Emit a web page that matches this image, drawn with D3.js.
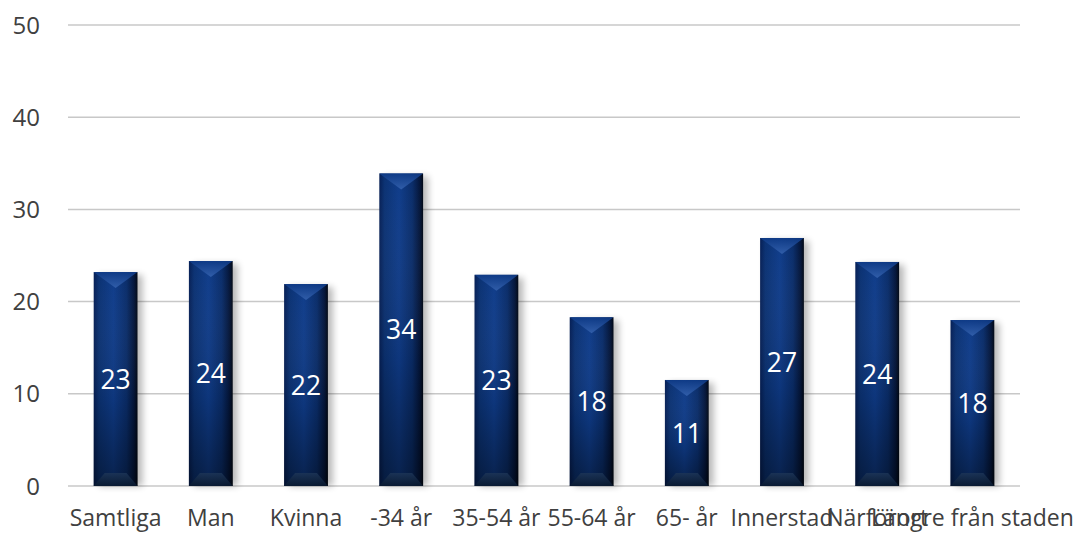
<!DOCTYPE html>
<html><head><meta charset="utf-8">
<script src="https://cdn.jsdelivr.net/npm/d3@7"></script>
<style>body{margin:0;background:#fff}svg{display:block}</style>
</head><body>
<svg id="c" width="1078" height="533"></svg>
<script>
const categories = ["Samtliga","Man","Kvinna","-34 år","35-54 år","55-64 år","65- år","Innerstad","Närförort","Längre från staden"];
const values = [23.2,24.4,21.9,33.9,22.9,18.3,11.5,26.9,24.3,18.0];
const labels = ["23","24","22","34","23","18","11","27","24","18"];
const yTicks = [0,10,20,30,40,50];

const svg = d3.select("#c");
const m = {l:68, r:58, t:25, b:47};
const W = 1078, H = 533;
const x = d3.scaleBand().domain(categories).range([m.l, W-m.r]).paddingInner(0.54).paddingOuter(0.27);
const y = d3.scaleLinear().domain([0,50]).range([H-m.b, m.t]);
const font = "'Open Sans', sans-serif";

const defs = svg.append("defs");
const hg = defs.append("linearGradient").attr("id","hg").attr("x1","0").attr("x2","1").attr("y1","0").attr("y2","0");
[[0,"#061f55"],[0.12,"#0b3273"],[0.45,"#0f3c8a"],[0.75,"#0a2d6a"],[0.92,"#04163b"],[1,"#010814"]].forEach(s=>hg.append("stop").attr("offset",s[0]).attr("stop-color",s[1]));
const vg = defs.append("linearGradient").attr("id","vg").attr("x1","0").attr("x2","0").attr("y1","0").attr("y2","1");
[[0,"#ffffff",0],[0.6,"#000000",0.1],[1,"#000000",0.45]].forEach(s=>vg.append("stop").attr("offset",s[0]).attr("stop-color",s[1]).attr("stop-opacity",s[2]));
const tg = defs.append("linearGradient").attr("id","tg").attr("x1","0").attr("x2","0").attr("y1","0").attr("y2","1");
[[0,"#0e3a86"],[1,"#3461ad"]].forEach(s=>tg.append("stop").attr("offset",s[0]).attr("stop-color",s[1]));
const bg = defs.append("linearGradient").attr("id","bg").attr("x1","0").attr("x2","0").attr("y1","0").attr("y2","1");
[[0,"#1d3557"],[1,"#0a1a30"]].forEach(s=>bg.append("stop").attr("offset",s[0]).attr("stop-color",s[1]));
const sh = defs.append("filter").attr("id","sh").attr("x","-20%").attr("y","-5%").attr("width","160%").attr("height","110%");
sh.append("feGaussianBlur").attr("stdDeviation",3.5);

// gridlines
svg.append("g").selectAll("line").data(yTicks).join("line")
  .attr("x1",m.l).attr("x2",W-m.r).attr("y1",d=>y(d)).attr("y2",d=>y(d))
  .attr("stroke","#c8c8c8").attr("stroke-width",1.5);

// y tick labels
svg.append("g").selectAll("text").data(yTicks).join("text")
  .attr("x",40).attr("y",d=>y(d)).attr("dy","0.36em").attr("text-anchor","end")
  .attr("font-family",font).attr("font-size",24).attr("fill","#404040").text(d=>d);

const bw = x.bandwidth();
const g = svg.append("g").selectAll("g").data(categories).join("g");
// shadow
g.append("rect").attr("x",d=>x(d)+5).attr("y",(d,i)=>y(values[i])+3).attr("width",bw).attr("height",(d,i)=>y(0)-y(values[i])-3)
  .attr("fill","#000").attr("opacity",0.28).attr("filter","url(#sh)");
g.append("rect").attr("x",d=>x(d)).attr("y",(d,i)=>y(values[i])).attr("width",bw).attr("height",(d,i)=>y(0)-y(values[i]))
  .attr("fill","url(#hg)");
g.append("rect").attr("x",d=>x(d)).attr("y",(d,i)=>y(values[i])).attr("width",bw).attr("height",(d,i)=>y(0)-y(values[i]))
  .attr("fill","url(#vg)");
// top bevel
g.append("path").attr("d",(d,i)=>{const x0=x(d),x1=x0+bw,t=y(values[i]),c=x0+bw/2;return `M${x0},${t}L${x1},${t}L${c},${t+16}Z`;})
  .attr("fill","url(#tg)").attr("opacity",0.9);
// bottom bevel
g.append("path").attr("d",(d,i)=>{const x0=x(d),x1=x0+bw,b=y(0);return `M${x0},${b}L${x0+11},${b-13}L${x1-11},${b-13}L${x1},${b}Z`;})
  .attr("fill","url(#bg)").attr("opacity",0.85);
// value labels
g.append("text").attr("x",d=>x(d)+bw/2).attr("y",(d,i)=>(y(values[i])+y(0))/2).attr("dy","0.36em")
  .attr("text-anchor","middle").attr("font-family",font).attr("font-size",26.5).attr("fill","#fff").text((d,i)=>labels[i]);

// category labels
svg.append("g").selectAll("text").data(categories).join("text")
  .attr("x",d=>x(d)+bw/2).attr("y",526).attr("text-anchor","middle")
  .attr("font-family",font).attr("font-size",23).attr("fill","#404040").text(d=>d);
</script>
</body></html>
